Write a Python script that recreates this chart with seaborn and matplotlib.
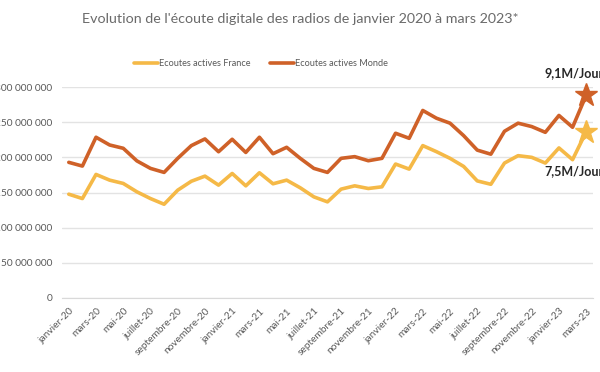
import pandas as pd
import numpy as np
import matplotlib.pyplot as plt
import seaborn as sb

mois = ['janvier', 'février', 'mars', 'avril', 'mai', 'juin', 'juillet',
        'août', 'septembre', 'octobre', 'novembre', 'décembre']
categories = [f"{mois[i % 12]}-{20 + i // 12}" for i in range(39)]

france = [147.6, 141.4, 175.7, 167.6, 162.9, 151.0, 141.4, 133.3, 153.3, 166.0,
          173.3, 160.5, 177.1, 159.5, 178.1, 162.4, 167.6, 156.7, 143.8, 136.7,
          154.8, 159.5, 155.7, 158.1, 190.5, 183.3, 216.7, 208.1, 198.6, 187.1,
          166.5, 161.7, 191.9, 202.4, 200.0, 191.9, 213.4, 196.7, 236.4]
monde = [192.9, 187.6, 228.6, 217.6, 212.9, 195.0, 184.3, 178.6, 198.6, 216.7,
         226.2, 208.0, 225.7, 207.0, 228.6, 205.2, 214.3, 198.6, 184.3, 178.6,
         198.6, 201.0, 195.2, 198.6, 234.3, 227.1, 266.7, 255.7, 248.6, 230.9,
         210.3, 204.5, 237.1, 248.6, 243.8, 235.6, 259.6, 242.8, 288.3]
series = ['Ecoutes actives France', 'Ecoutes actives Monde']
couleurs = ['#F5B947', '#CF6128']
notes = ['7,5M/Jour', '9,1M/Jour']
yticks = [0, 50e6, 100e6, 150e6, 200e6, 250e6, 300e6]

df = pd.DataFrame({
    'idx': list(range(39)) * 2,
    'val': np.array(france + monde) * 1e6,
    'serie': [series[0]] * 39 + [series[1]] * 39,
})

sb.set_style('white')
plt.rcParams['font.family'] = ['Lato', 'DejaVu Sans']

fig = plt.figure(figsize=(6, 3.72), dpi=100)
ax = fig.add_axes([0.1033, 0.199, 0.885, 0.567])

sb.lineplot(data=df, x='idx', y='val', hue='serie', palette=couleurs,
            linewidth=2.6, ax=ax, legend=False)

for s, c, n, dy in zip(series, couleurs, notes, [-28, 16]):
    d = df[df.serie == s].iloc[-1]
    ax.plot(d.idx, d.val, marker='*', markersize=17, color=c, clip_on=False,
            zorder=5)
    ax.annotate(n, (d.idx, d.val), xytext=(-9, dy), textcoords='offset points',
                ha='center', va='center', fontsize=9, fontweight='bold',
                color='#262626', annotation_clip=False)

ax.set_xlim(-0.5, 38.5)
ax.set_ylim(0, 300e6)
ax.set_yticks(yticks)
ax.set_yticklabels([f"{int(v):,}".replace(',', ' ') for v in yticks])
ax.set_xticks(range(0, 39, 2))
ax.set_xticklabels(categories[::2], rotation=45, ha='right',
                   rotation_mode='anchor')
ax.set_xticks(np.arange(-0.5, 39, 2), minor=True)
ax.tick_params(axis='x', which='major', length=0, pad=6, labelsize=7.3,
               labelcolor='#595959')
ax.tick_params(axis='x', which='minor', length=4, color='#D9D9D9', width=0.8,
               direction='out')
ax.tick_params(axis='y', length=0, pad=7, labelsize=7.3, labelcolor='#595959')
ax.grid(axis='y', color='#E3E3E3', linewidth=1)
ax.set_axisbelow(True)
for sp in ['top', 'right', 'left']:
    ax.spines[sp].set_visible(False)
ax.spines['bottom'].set_color('#D9D9D9')
ax.set_xlabel('')
ax.set_ylabel('')

handles = [plt.Line2D([], [], color=c, linewidth=2.6) for c in couleurs]
fig.legend(handles, series, loc='center', bbox_to_anchor=(0.435, 0.83),
           ncol=2, frameon=False, fontsize=6.6, handlelength=2.6,
           handletextpad=0.1, columnspacing=2.2, labelcolor='#595959')

fig.suptitle("Evolution de l'écoute digitale des radios de janvier 2020 à mars 2023*",
             x=0.5, y=0.965, fontsize=10.3, color='#6A6A6A')

fig.savefig('out.png', dpi=100)
